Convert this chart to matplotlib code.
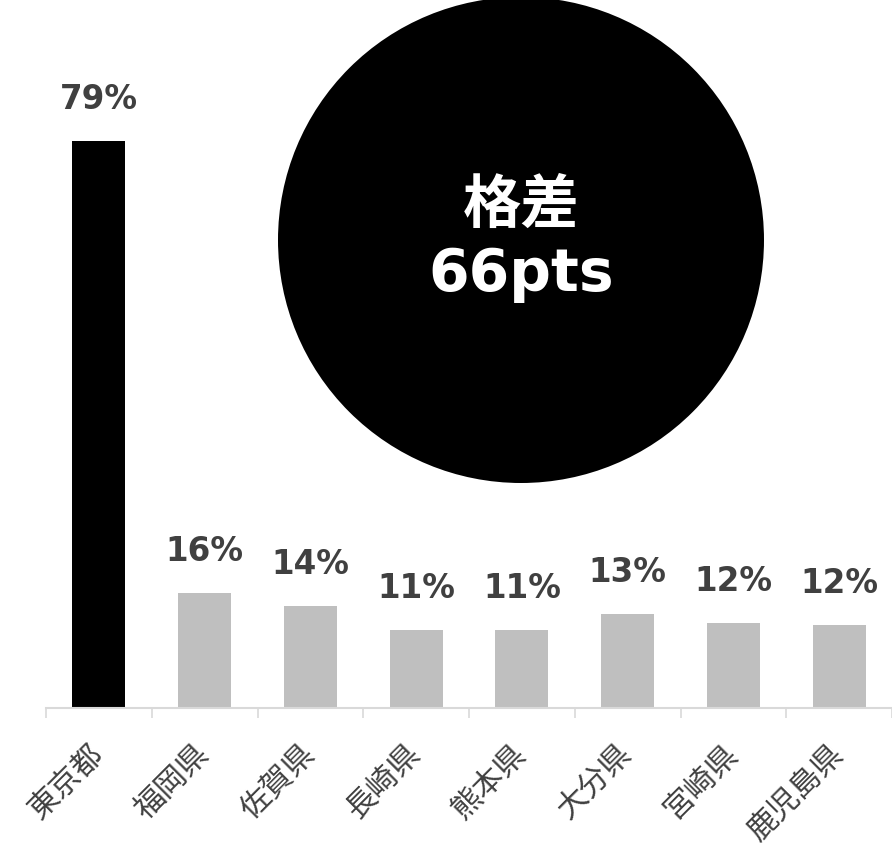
import matplotlib.pyplot as plt
from matplotlib.patches import Ellipse

plt.rcParams['font.family'] = ['DejaVu Sans', 'Noto Sans CJK JP']

# data
prefectures = ['東京都', '福岡県', '佐賀県', '長崎県', '熊本県', '大分県', '宮崎県', '鹿児島県']
rates = [79, 16.0, 14.2, 10.9, 10.9, 13.1, 11.8, 11.6]
bar_colors = ['#000000'] + ['#bfbfbf'] * 7
gap_text = '格差\n66pts'

fig = plt.figure(figsize=(8.92, 8.49), dpi=100)
ax = fig.add_axes([46 / 892, 141 / 849, 1 - 46 / 892, 0.761])

x = range(len(prefectures))
ax.bar(x, rates, width=0.5, color=bar_colors, zorder=2)

# data labels
for i, v in zip(x, rates):
    ax.annotate(f'{round(v)}%', (i, v), xytext=(0, 23), textcoords='offset points',
                ha='center', va='baseline', fontsize=23.5, fontweight='bold',
                color='#404040', annotation_clip=False)

ax.set_xlim(-0.5, len(prefectures) - 0.5)
ax.set_ylim(0, 90)

for s in ['top', 'right', 'left']:
    ax.spines[s].set_visible(False)
ax.spines['bottom'].set_color('#d9d9d9')
ax.spines['bottom'].set_linewidth(1.5)
ax.set_yticks([])

# ticks at category boundaries, labels at centers
ax.set_xticks([i - 0.5 for i in range(len(prefectures) + 1)], minor=True)
ax.tick_params(axis='x', which='minor', length=7, width=1.2, color='#d9d9d9')
ax.set_xticks(list(x))
ax.set_xticklabels(prefectures, rotation=45, ha='right', va='center',
                   rotation_mode='anchor', fontsize=22, color='#404040',
                   family='Noto Sans CJK JP')
ax.tick_params(axis='x', which='major', length=0, pad=30)

# big circle with the gap
circle = Ellipse((521 / 892, 1 - 240 / 849), 486 / 892, 486 / 849,
                 transform=fig.transFigure, facecolor='black', edgecolor='none')
fig.add_artist(circle)
fig.text(521 / 892, 1 - 240 / 849, gap_text, ha='center', va='center',
         color='white', fontsize=42, fontweight='bold', linespacing=1.25)

fig.savefig('out.png', dpi=100)
